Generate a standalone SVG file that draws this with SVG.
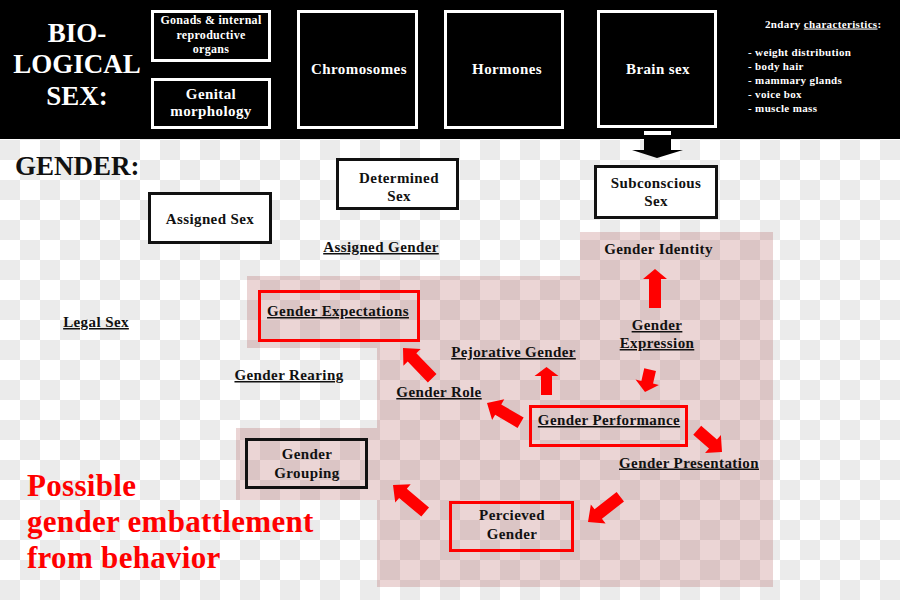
<svg xmlns="http://www.w3.org/2000/svg" width="900" height="600" viewBox="0 0 900 600">
<defs>
<pattern id="chk" width="40" height="40" patternUnits="userSpaceOnUse">
<rect width="40" height="40" fill="#ffffff"/>
<rect x="20" y="0" width="20" height="20" fill="#ebebeb"/>
<rect x="0" y="20" width="20" height="20" fill="#ebebeb"/>
</pattern>
<style>
text{font-family:"Liberation Serif","Times New Roman",serif;font-weight:bold;}
.w{fill:#ffffff;}
.k{fill:#111111;}
.lbl{font-size:15px;letter-spacing:0.4px;text-anchor:middle;}
.u{text-decoration:underline;}
.bigw{font-size:27px;fill:#ffffff;text-anchor:middle;}
.wbox{fill:none;stroke:#ffffff;stroke-width:3;}
.kbox{fill:#ffffff;stroke:#111111;stroke-width:3;}
.kbox2{fill:none;stroke:#111111;stroke-width:3;}
.rbox{fill:none;stroke:#ff0000;stroke-width:3;}
.rarr{fill:#ff0000;}
.sm{font-size:11px;letter-spacing:0.35px;fill:#ffffff;}
.note{font-size:31px;fill:#ff0000;letter-spacing:0.3px;}
</style>
</defs>
<rect x="0" y="0" width="900" height="600" fill="url(#chk)"/>
<polygon points="580,232 773,232 773,587 377,587 377,500 236,500 236,428 377,428 377,348 247,348 247,276 580,276" fill="#a03a3a" fill-opacity="0.21"/>
<rect x="0" y="0" width="900" height="139" fill="#000000"/>

<g id="bio-title">
<text class="bigw" x="77" y="42">BIO-</text>
<text class="bigw" x="77" y="73">LOGICAL</text>
<text class="bigw" x="77" y="105">SEX:</text>
</g>
<g id="gonads">
<rect class="wbox" x="152.5" y="11.5" width="117" height="49"/>
<text class="w" x="211" y="24" font-size="12" letter-spacing="0.3" text-anchor="middle">Gonads &amp; internal</text>
<text class="w" x="211" y="38.5" font-size="12" letter-spacing="0.3" text-anchor="middle">reproductive</text>
<text class="w" x="211" y="53" font-size="12" letter-spacing="0.3" text-anchor="middle">organs</text>
</g>
<g id="genital">
<rect class="wbox" x="152.5" y="79.5" width="117" height="48"/>
<text class="w lbl" x="211" y="99">Genital</text>
<text class="w lbl" x="211" y="116">morphology</text>
</g>
<g id="chromosomes">
<rect class="wbox" x="298.5" y="11.5" width="118" height="116"/>
<text class="w lbl" x="359" y="73.5">Chromosomes</text>
</g>
<g id="hormones">
<rect class="wbox" x="445.5" y="11.5" width="117" height="116"/>
<text class="w lbl" x="507" y="73.5">Hormones</text>
</g>
<g id="brain-sex">
<rect class="wbox" x="598.5" y="11.5" width="117" height="115"/>
<text class="w lbl" x="658" y="73.5">Brain sex</text>
</g>
<g id="secondary">
<text class="sm" x="765" y="27.5">2ndary <tspan class="u">characteristics</tspan>:</text>
<text class="sm" x="748" y="55.5">- weight distribution</text>
<text class="sm" x="748" y="69.5">- body hair</text>
<text class="sm" x="748" y="83.5">- mammary glands</text>
<text class="sm" x="748" y="97.5">- voice box</text>
<text class="sm" x="748" y="111.5">- muscle mass</text>
</g>

<g id="gender-title">
<text class="k" x="15" y="175" font-size="27">GENDER:</text>
</g>
<g id="assigned-sex">
<rect class="kbox" x="149.5" y="193.5" width="121" height="49"/>
<text class="k lbl" x="210" y="224">Assigned Sex</text>
</g>
<g id="determined-sex">
<rect class="kbox" x="337.5" y="159.5" width="120" height="49"/>
<text class="k lbl" x="399" y="182.5">Determined</text>
<text class="k lbl" x="399" y="200.5">Sex</text>
</g>
<g id="subconscious-sex">
<rect class="kbox" x="595.5" y="166.5" width="121" height="51"/>
<text class="k lbl" x="656" y="188">Subconscious</text>
<text class="k lbl" x="656" y="206">Sex</text>
</g>
<g id="assigned-gender">
<text class="k lbl u" x="381" y="252">Assigned Gender</text>
</g>
<g id="legal-sex">
<text class="k lbl u" x="96" y="327">Legal Sex</text>
</g>
<g id="gender-expectations">
<rect class="rbox" x="259.5" y="291.5" width="159" height="49"/>
<text class="k lbl u" x="338" y="316">Gender Expectations</text>
</g>
<g id="gender-identity">
<text class="k lbl" x="658.5" y="253.5">Gender Identity</text>
</g>
<g id="gender-expression">
<text class="k lbl u" x="657" y="330">Gender</text>
<text class="k lbl u" x="657" y="348">Expression</text>
</g>
<g id="pejorative-gender">
<text class="k lbl u" x="513.5" y="357">Pejorative Gender</text>
</g>
<g id="gender-rearing">
<text class="k lbl u" x="289" y="380">Gender Rearing</text>
</g>
<g id="gender-role">
<text class="k lbl u" x="439" y="397">Gender Role</text>
</g>
<g id="gender-performance">
<rect class="rbox" x="530.5" y="406.5" width="156" height="39"/>
<text class="k lbl u" x="609" y="425">Gender Performance</text>
</g>
<g id="gender-presentation">
<text class="k lbl u" x="689" y="467.5">Gender Presentation</text>
</g>
<g id="gender-grouping">
<rect class="kbox2" x="246.5" y="439.5" width="120" height="48"/>
<text class="k lbl" x="307" y="459">Gender</text>
<text class="k lbl" x="307" y="477.5">Grouping</text>
</g>
<g id="percieved-gender">
<rect class="rbox" x="450.5" y="502.5" width="122" height="48"/>
<text class="k lbl" x="512" y="520">Percieved</text>
<text class="k lbl" x="512" y="538.5">Gender</text>
</g>
<g id="embattlement-note">
<text class="note" x="27" y="496">Possible</text>
<text class="note" x="27" y="532">gender embattlement</text>
<text class="note" x="27" y="568">from behavior</text>
</g>

<g id="connectors">
<polygon points="644,131 671,131 671,135 644,135" fill="#ffffff"/>
<polygon points="644,139 671,139 671,150 683,150 657,158 632,150 644,150" fill="#000000"/>
<path class="rarr" transform="translate(655,269) rotate(-90)" d="M0,0 L-10,-12 L-10,-6 L-39,-6 L-39,6 L-10,6 L-10,12 Z"/>
<path class="rarr" transform="translate(546.5,367) rotate(-90)" d="M0,0 L-9,-12 L-9,-5.5 L-28,-5.5 L-28,5.5 L-9,5.5 L-9,12 Z"/>
<path class="rarr" transform="translate(403,348) rotate(-134)" d="M0,0 L-13,-12 L-13,-6 L-42,-6 L-42,6 L-13,6 L-13,12 Z"/>
<path class="rarr" transform="translate(487,403) rotate(-149.5)" d="M0,0 L-13,-12 L-13,-6 L-39,-6 L-39,6 L-13,6 L-13,12 Z"/>
<path class="rarr" transform="translate(645,392) rotate(102.8)" d="M0,0 L-10,-12 L-10,-6 L-23,-6 L-23,6 L-10,6 L-10,12 Z"/>
<path class="rarr" transform="translate(722,452) rotate(41.3)" d="M0,0 L-12,-12 L-12,-6 L-33,-6 L-33,6 L-12,6 L-12,12 Z"/>
<path class="rarr" transform="translate(588,522) rotate(142)" d="M0,0 L-13,-12 L-13,-6 L-41,-6 L-41,6 L-13,6 L-13,12 Z"/>
<path class="rarr" transform="translate(393,485) rotate(-140)" d="M0,0 L-13,-12 L-13,-6 L-42,-6 L-42,6 L-13,6 L-13,12 Z"/>
</g>
</svg>
